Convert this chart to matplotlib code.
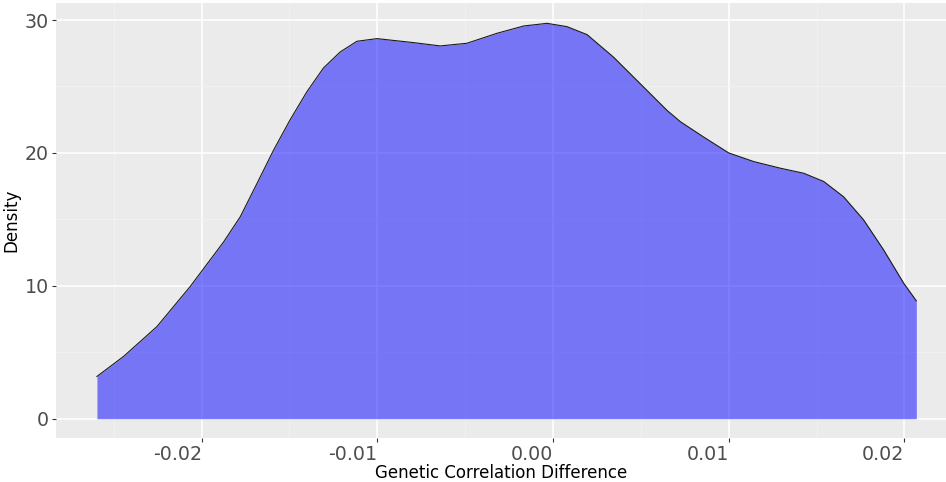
import matplotlib
matplotlib.use("Agg")
import matplotlib.pyplot as plt
import numpy as np

# valores (diferenca de correlacao genetica vs densidade)
diff = [-0.02596, -0.02445, -0.02254, -0.02065, -0.01875, -0.01780, -0.01685,
        -0.01591, -0.01496, -0.01401, -0.01306, -0.01211, -0.01116, -0.01002,
        -0.00794, -0.00642, -0.00490, -0.00319, -0.00167, -0.00034, 0.00080,
        0.00194, 0.00345, 0.00497, 0.00649, 0.00725, 0.00857, 0.01000,
        0.01142, 0.01294, 0.01427, 0.01541, 0.01654, 0.01768, 0.01882,
        0.01996, 0.02068]
densidade = [3.18, 4.68, 6.94, 9.95, 13.3, 15.2, 17.7, 20.2, 22.5, 24.6, 26.4,
             27.6, 28.4, 28.6, 28.3, 28.05, 28.25, 29.0, 29.55, 29.75, 29.5,
             28.9, 27.2, 25.2, 23.2, 22.35, 21.2, 20.0, 19.35, 18.85, 18.47,
             17.85, 16.7, 14.96, 12.7, 10.2, 8.87]

x_ticks = [-0.02, -0.01, 0.00, 0.01, 0.02]
x_labels = ['-0.02', '-0.01', '0.00', '0.01', '0.02']
y_ticks = [0, 10, 20, 30]

fig = plt.figure(figsize=(9.46, 4.82), dpi=100)
ax = fig.add_axes([56/946, 1 - 438/482, 1 - 56/946, 435/482])

ax.set_facecolor('#EBEBEB')
for s in ax.spines.values():
    s.set_visible(False)

# grade maior e menor, estilo ggplot
ax.set_xticks(x_ticks)
ax.set_xticklabels(x_labels)
ax.set_yticks(y_ticks)
ax.set_xticks([-0.025, -0.015, -0.005, 0.005, 0.015], minor=True)
ax.set_yticks([5, 15, 25], minor=True)
ax.grid(which='major', color='white', linewidth=1.1)
ax.grid(which='minor', color='#F4F4F4', linewidth=0.55)
ax.set_axisbelow(True)

ax.fill_between(diff, 0, densidade, color=(0, 0, 1, 0.5), linewidth=0)
ax.plot(diff, densidade, color='#1A1A1A', linewidth=0.8)

ax.set_xlim(-0.02829, 0.02237)
ax.set_ylim(-1.45, 31.28)

ax.tick_params(which='major', length=3, width=0.8, color='#333333',
               labelsize=13.7, labelcolor='#4D4D4D', pad=2)
ax.tick_params(which='minor', length=0)
for lab in ax.get_xticklabels():
    lab.set_horizontalalignment('right')

ax.set_xlabel('Genetic Correlation Difference', fontsize=12, labelpad=0)
ax.set_ylabel('Density', fontsize=12, labelpad=3)

fig.savefig('out.png', dpi=100)
